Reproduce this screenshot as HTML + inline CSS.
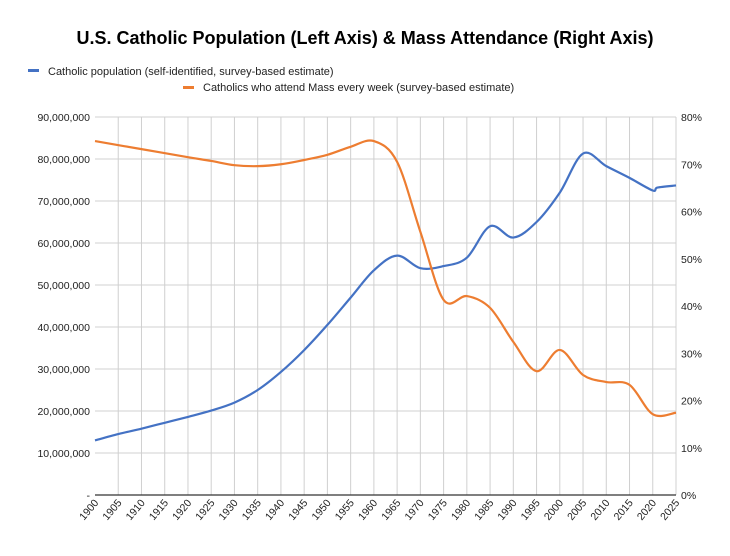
<!DOCTYPE html>
<html><head><meta charset="utf-8"><style>
body{margin:0;background:#fff;font-family:"Liberation Sans",sans-serif}
svg text{font-family:"Liberation Sans",sans-serif}
</style></head><body>
<svg id="c" width="730" height="551"></svg>
<script>
const years=[1900,1905,1910,1915,1920,1925,1930,1935,1940,1945,1950,1955,1960,1965,1970,1975,1980,1985,1990,1995,2000,2005,2010,2015,2020,2021,2025];
const population=[13,14.5,15.8,17.2,18.6,20.1,22,25,29.3,34.5,40.5,47,53.5,57,54,54.5,56.5,64,61.3,65,72,81.3,78.3,75.5,72.5,73.2,73.7];
const attendYears=[1900,1910,1920,1925,1930,1935,1940,1945,1950,1955,1960,1965,1970,1975,1980,1985,1990,1995,2000,2005,2010,2015,2020,2025];
const attendance=[74.9,73.2,71.5,70.7,69.8,69.6,70,70.9,72,73.7,74.9,70.5,55.7,41.3,42.1,39.6,32.4,26.2,30.7,25.4,23.9,23.3,17.1,17.4];
const leftTicks=["-","10,000,000","20,000,000","30,000,000","40,000,000","50,000,000","60,000,000","70,000,000","80,000,000","90,000,000"];
const rightTicks=["0%","10%","20%","30%","40%","50%","60%","70%","80%"];
const L=95,R=676,T=117,B=495;
const x=y=>L+(y-1900)/125*(R-L);
const yl=v=>B-v/90*(B-T);
const yr=v=>B-v/80*(B-T);
const svg=document.getElementById('c');
const NS='http://www.w3.org/2000/svg';
function mk(t,a,p){const e=document.createElementNS(NS,t);for(const k in a)e.setAttribute(k,a[k]);(p||svg).appendChild(e);return e;}
let t=mk('text',{x:365,y:44,'text-anchor':'middle','font-size':18,'font-weight':'bold',fill:'#000'});t.textContent='U.S. Catholic Population (Left Axis) & Mass Attendance (Right Axis)';

let r=mk('rect',{x:28,y:69,width:11,height:3,fill:'#4472c4'});
t=mk('text',{x:48,y:75,'font-size':11,fill:'#222'});t.textContent='Catholic population (self-identified, survey-based estimate)';

r=mk('rect',{x:183,y:86,width:11,height:3,fill:'#ed7d31'});
t=mk('text',{x:203,y:91,'font-size':11,fill:'#222'});t.textContent='Catholics who attend Mass every week (survey-based estimate)';

for(let i=0;i<leftTicks.length;i++){const yy=yl(i*10);
 if(i>0){const g=mk('line',{x1:L,x2:R,y1:yy,y2:yy,stroke:'#d0d0d0'});}
 const tx=mk('text',{x:L-5,y:yy+4,'text-anchor':'end','font-size':10.5,fill:'#222'});tx.textContent=leftTicks[i];
 }
for(let i=0;i<rightTicks.length;i++){const tx=mk('text',{x:R+5,y:yr(i*10)+4,'font-size':10.5,fill:'#222'});tx.textContent=rightTicks[i];
 }
for(let yv=1900;yv<=2025;yv+=5){const xx=x(yv);
 if(yv>1900){const g=mk('line',{x1:xx,x2:xx,y1:T,y2:B,stroke:'#d0d0d0'});}
 const tx=mk('text',{x:xx+4,y:B+8,'text-anchor':'end','font-size':10.5,fill:'#222',transform:`rotate(-50 ${xx+4} ${B+8})`});tx.textContent=yv;
 }
const ax=mk('line',{x1:L,x2:R,y1:B,y2:B,stroke:'#333','stroke-width':1.2});
function path(pts){let d=`M${pts[0][0]},${pts[0][1]}`;for(let i=0;i<pts.length-1;i++){const p0=pts[i-1]||pts[i],p1=pts[i],p2=pts[i+1],p3=pts[i+2]||p2;const k=6;
 d+=` C${p1[0]+(p2[0]-p0[0])/k},${p1[1]+(p2[1]-p0[1])/k} ${p2[0]-(p3[0]-p1[0])/k},${p2[1]-(p3[1]-p1[1])/k} ${p2[0]},${p2[1]}`;}return d;}
const p1=mk('path',{d:path(years.map((yv,i)=>[x(yv),yl(population[i])])),fill:'none',stroke:'#4472c4','stroke-width':2.2});

const p2=mk('path',{d:path(attendYears.map((yv,i)=>[x(yv),yr(attendance[i])])),fill:'none',stroke:'#ed7d31','stroke-width':2.2});

</script></body></html>
